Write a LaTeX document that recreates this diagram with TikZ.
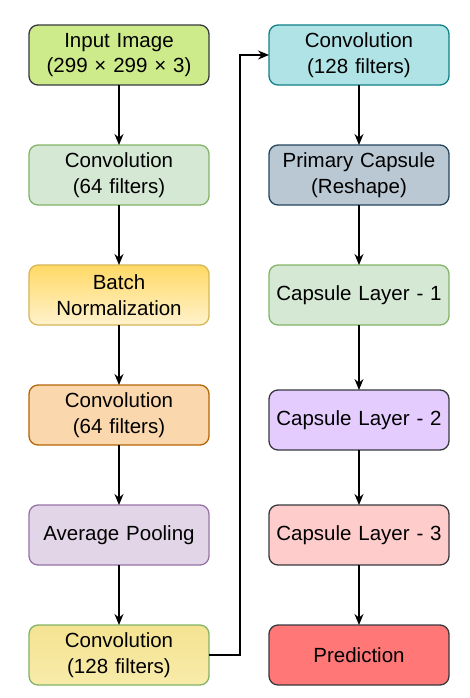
\documentclass[tikz,border=0pt]{standalone}
\usepackage{fontspec}
\setmainfont{Liberation Sans}
\usepackage{xcolor}
\usetikzlibrary{shapes,arrows.meta,positioning}

\definecolor{inputfill}{HTML}{CDEB8B}
\definecolor{darkline}{HTML}{36393D}
\definecolor{greenfill}{HTML}{D5E8D4}
\definecolor{greenline}{HTML}{82B366}
\definecolor{normtop}{HTML}{FFD966}
\definecolor{normbot}{HTML}{FFF2CC}
\definecolor{normline}{HTML}{D6B656}
\definecolor{orangefill}{HTML}{FAD7AC}
\definecolor{orangeline}{HTML}{B46504}
\definecolor{purplefill}{HTML}{E1D5E7}
\definecolor{purpleline}{HTML}{9673A6}
\definecolor{convtop}{HTML}{F4E391}
\definecolor{convbot}{HTML}{F8EBAA}
\definecolor{tealfill}{HTML}{B0E3E6}
\definecolor{tealline}{HTML}{0E8088}
\definecolor{slatefill}{HTML}{BAC8D3}
\definecolor{slateline}{HTML}{23445D}
\definecolor{lilacfill}{HTML}{E5CCFF}
\definecolor{pinkfill}{HTML}{FFCCCC}
\definecolor{redfill}{HTML}{FF7777}

\begin{document}
\begin{tikzpicture}[
    node distance=60pt,
    block/.style={rectangle, rounded corners=9pt, draw, line width=1.3pt, text width=170pt, align=center,
        minimum width=180pt, minimum height=60pt, inner sep=0pt, outer sep=0pt,
        font=\fontsize{20.5}{25.5}\selectfont},
    arrow/.style={-{Stealth[length=11pt,width=9pt]}, line width=1.4pt}
]
    % left column
    \node[block, fill=inputfill, draw=darkline] (input) {Input Image\\(299 × 299 × 3)};
    \node[block, fill=greenfill, draw=greenline, below=of input] (conv1) {Convolution\\(64 filters)};
    \node[block, top color=normtop, bottom color=normbot, draw=normline, below=of conv1] (norm) {Batch\\Normalization};
    \node[block, fill=orangefill, draw=orangeline, below=of norm] (conv2) {Convolution\\(64 filters)};
    \node[block, fill=purplefill, draw=purpleline, below=of conv2] (pool) {Average Pooling};
    \node[block, top color=convtop, bottom color=convbot, draw=greenline, below=of pool] (conv3) {Convolution\\(128 filters)};

    % right column
    \node[block, fill=tealfill, draw=tealline, right=of input] (conv4) {Convolution\\(128 filters)};
    \node[block, fill=slatefill, draw=slateline, below=of conv4] (primary) {Primary Capsule\\(Reshape)};
    \node[block, fill=greenfill, draw=greenline, below=of primary] (caps1) {Capsule Layer - 1};
    \node[block, fill=lilacfill, draw=darkline, below=65pt of caps1] (caps2) {Capsule Layer - 2};
    \node[block, fill=pinkfill, draw=darkline, below=55pt of caps2] (caps3) {Capsule Layer - 3};
    \node[block, fill=redfill, draw=darkline, below=of caps3] (pred) {Prediction};

    \useasboundingbox ([xshift=-29pt,yshift=25pt]input.north west) rectangle ++(469pt,-698pt);

    \draw[arrow] (input) -- (conv1);
    \draw[arrow] (conv1) -- (norm);
    \draw[arrow] (norm) -- (conv2);
    \draw[arrow] (conv2) -- (pool);
    \draw[arrow] (pool) -- (conv3);
    \draw[arrow] (conv3.east) -- ++(31pt,0) |- (conv4.west);
    \draw[arrow] (conv4) -- (primary);
    \draw[arrow] (primary) -- (caps1);
    \draw[arrow] (caps1) -- (caps2);
    \draw[arrow] (caps2) -- (caps3);
    \draw[arrow] (caps3) -- (pred);
\end{tikzpicture}
\end{document}
